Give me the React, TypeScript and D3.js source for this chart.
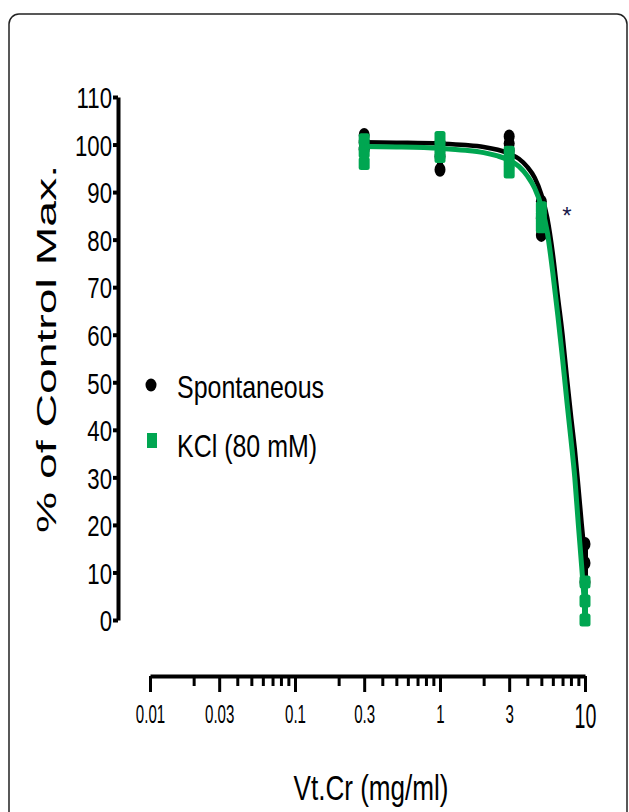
import { useEffect, useRef } from "react";
import * as d3 from "d3";

// ----- Data ---------------------------------------------------------------
const doses = [0.3, 1, 3, 5, 10]; // mg/ml
const spontMean = [100.5, 97.5, 100.2, 84.5, 12];
const spontSem = [1.5, 2.8, 1.5, 3.5, 4];
const kclMean = [98.5, 99.5, 96.3, 84.7, 4];
const kclSem = [2.5, 2, 2.1, 2, 4];

// fitted curves
const fitDoses = [0.3, 0.5, 1, 1.5, 2, 2.5, 3, 3.5, 4, 4.5, 5, 5.5, 6, 6.5, 7, 7.5, 8, 8.5, 9, 9.5, 10];
const spontFit = [100.5, 100.4, 100.2, 99.9, 99.5, 98.9, 98.1, 97, 95.3, 93, 89.5, 84.5, 77, 68, 60, 51, 43, 36, 28, 20, 13];
const kclFit = [99.6, 99.5, 99.2, 98.8, 98.3, 97.6, 96.7, 95.4, 93.4, 90.8, 87, 81.5, 73, 64, 55, 46, 38, 30, 20, 11, 2];

const yTicks = [0, 10, 20, 30, 40, 50, 60, 70, 80, 90, 100, 110];
const xMajor = [0.01, 0.03, 0.1, 0.3, 1, 3, 10];
const xMajorLabels = ["0.01", "0.03", "0.1", "0.3", "1", "3", "10"];
const xMinor = [0.02, 0.04, 0.05, 0.06, 0.07, 0.08, 0.09, 0.2, 0.4, 0.5, 0.6, 0.7, 0.8, 0.9, 2, 4, 5, 6, 7, 8, 9];

const GREEN = "#00a651";
const FONT = "'Liberation Sans', Arial, sans-serif";

const App = () => {
  const svgRef = useRef<SVGSVGElement | null>(null);

  useEffect(() => {
    const svg = d3.select(svgRef.current);
    svg.selectAll("*").remove();

    const x = d3.scaleLog().domain([0.01, 10]).range([150, 585]);
    const y = d3.scaleLinear().domain([0, 110]).range([620, 97]);

    // ----- Frame ----------------------------------------------------------
    svg.append("rect")
      .attr("x", 9).attr("y", 14).attr("width", 618).attr("height", 830)
      .attr("rx", 10)
      .attr("fill", "none").attr("stroke", "#222").attr("stroke-width", 1.5);

    // ----- Y axis ---------------------------------------------------------
    const ys = 0.74;
    const gy = svg.append("g").attr("transform", "translate(118,0)")
      .call(d3.axisLeft(y).tickValues(yTicks).tickSize(5).tickSizeOuter(0).tickFormat(d3.format("d")));
    gy.select(".domain").attr("stroke-width", 4).attr("stroke", "#000");
    gy.selectAll(".tick line").attr("stroke-width", 4).attr("stroke", "#000");
    gy.selectAll(".tick text")
      .attr("font-family", FONT).attr("font-size", 30).attr("fill", "#000")
      .attr("x", -6 / ys).attr("dy", "0.36em")
      .attr("transform", `scale(${ys},1)`);

    // ----- X axis ---------------------------------------------------------
    const xs = 0.58;
    const gxMinor = svg.append("g").attr("transform", "translate(0,676)")
      .call(d3.axisBottom(x).tickValues(xMinor).tickSize(10).tickSizeOuter(0).tickFormat(() => ""));
    gxMinor.select(".domain").remove();
    gxMinor.selectAll(".tick line").attr("stroke-width", 3).attr("stroke", "#000");

    const gx = svg.append("g").attr("transform", "translate(0,676)")
      .call(
        d3.axisBottom(x).tickValues(xMajor).tickSize(16).tickSizeOuter(0)
          .tickFormat((_d, i) => xMajorLabels[i]),
      );
    gx.select(".domain").attr("stroke-width", 4).attr("stroke", "#000");
    gx.selectAll(".tick line").attr("stroke-width", 3).attr("stroke", "#000");
    gx.selectAll<SVGTextElement, number>(".tick text")
      .attr("font-family", FONT)
      .attr("font-size", (d) => (d === 10 ? 35 : 26))
      .attr("fill", "#000")
      .attr("y", (d) => (d === 10 ? 52 : 47))
      .attr("dy", "0")
      .attr("transform", (d) => `scale(${d === 10 ? 0.56 : xs},1)`);

    // ----- Axis titles ----------------------------------------------------
    svg.append("text")
      .attr("transform", "translate(56,349) scale(0.62,1) rotate(-90)")
      .attr("text-anchor", "middle")
      .attr("font-family", FONT).attr("font-size", 46)
      .attr("textLength", 368).attr("lengthAdjust", "spacingAndGlyphs")
      .text("% of Control Max.");

    svg.append("text")
      .attr("transform", "translate(371,800) scale(0.745,1)")
      .attr("text-anchor", "middle")
      .attr("font-family", FONT).attr("font-size", 35)
      .text("Vt.Cr (mg/ml)");

    // ----- Series ---------------------------------------------------------
    const plot = svg.append("g");

    const line = d3.line<number>()
      .x((_d, i) => x(fitDoses[i]))
      .y((d) => y(d))
      .curve(d3.curveMonotoneX);

    const errorBars = (mean: number[], sem: number[], color: string, shape: "circle" | "square") => {
      const g = plot.append("g");
      doses.forEach((dose, i) => {
        const cx = x(dose);
        const lo = y(mean[i] - sem[i]);
        const hi = y(mean[i] + sem[i]);
        g.append("line")
          .attr("x1", cx).attr("x2", cx).attr("y1", lo).attr("y2", hi)
          .attr("stroke", color).attr("stroke-width", 6);
        [lo, hi, y(mean[i])].forEach((cy) => {
          if (shape === "circle") {
            g.append("ellipse").attr("cx", cx).attr("cy", cy).attr("rx", 5.5).attr("ry", 7).attr("fill", color);
          } else {
            g.append("rect").attr("x", cx - 5.5).attr("y", cy - 6.5).attr("width", 11).attr("height", 13)
              .attr("rx", 2.5).attr("fill", color);
          }
        });
      });
    };

    errorBars(spontMean, spontSem, "#000", "circle");
    plot.append("path").datum(spontFit)
      .attr("fill", "none").attr("stroke", "#000").attr("stroke-width", 4.5).attr("d", line);
    errorBars(kclMean, kclSem, GREEN, "square");
    plot.append("path").datum(kclFit)
      .attr("fill", "none").attr("stroke", GREEN).attr("stroke-width", 5).attr("d", line);

    // significance mark
    svg.append("text")
      .attr("x", 567).attr("y", 224)
      .attr("text-anchor", "middle")
      .attr("font-family", FONT).attr("font-size", 24).attr("fill", "#1a1a4a")
      .text("*");

    // ----- Legend ---------------------------------------------------------
    const legend = svg.append("g");
    legend.append("ellipse").attr("cx", 151).attr("cy", 385).attr("rx", 5.5).attr("ry", 6.5).attr("fill", "#000");
    legend.append("rect").attr("x", 147).attr("y", 433).attr("width", 10).attr("height", 15).attr("fill", GREEN);
    legend.append("text")
      .attr("transform", "translate(177,398) scale(0.78,1)")
      .attr("font-family", FONT).attr("font-size", 32)
      .text("Spontaneous");
    legend.append("text")
      .attr("transform", "translate(177,457) scale(0.78,1)")
      .attr("font-family", FONT).attr("font-size", 32)
      .text("KCl (80 mM)");
  }, []);

  return (
    <svg
      ref={svgRef}
      width={629}
      height={812}
      style={{ position: "absolute", left: 0, top: 0, background: "#fff" }}
    />
  );
};

export default App;
